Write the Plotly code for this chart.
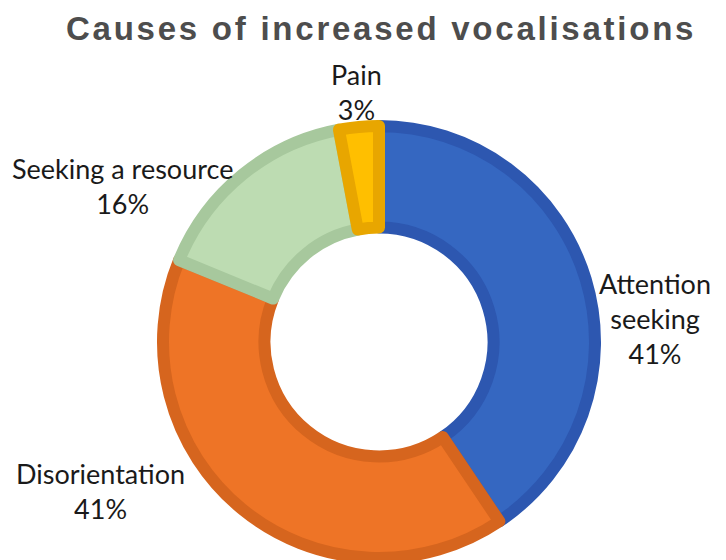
import plotly.graph_objects as go

labels = ["Attention<br>seeking", "Disorientation", "Seeking a resource", "Pain"]
values = [41, 41, 16, 3]
fill_colors = ["#3567c1", "#ee7426", "#bddcb2", "#ffbf00"]
border_colors = ["#2d57b0", "#d6651e", "#a7c89d", "#e8a600"]
label_pos = [(655, 318), (100, 491), (122, 186), (356, 92)]  # pixel centres (x, y from top)
title = "Causes of increased vocalisations"

W, H = 726, 560
cx, cy, r = 379, 342, 216

fig = go.Figure(go.Pie(
    labels=labels,
    values=values,
    hole=0.53,
    sort=False,
    direction="clockwise",
    rotation=0,
    textinfo="none",
    hoverinfo="label+percent",
    marker=dict(colors=fill_colors, line=dict(color=border_colors, width=12)),
    domain=dict(x=[(cx - r) / W, (cx + r) / W],
                y=[max(0, (H - cy - r) / H), (H - cy + r) / H]),
    showlegend=False,
))

total = sum(values)
for lab, v, (px, py) in zip(labels, values, label_pos):
    fig.add_annotation(
        x=px / W, y=1 - py / H, xref="paper", yref="paper",
        text=f"{lab}<br>{round(100 * v / total)}%",
        showarrow=False, xanchor="center", yanchor="middle",
        font=dict(family="Lato", size=27, color="#1a1a1a"),
    )

spaced_title = "\u200a".join(title)
fig.add_annotation(
    x=379 / W, y=1 - 28 / H, xref="paper", yref="paper",
    text=f"<b>{spaced_title}</b>",
    showarrow=False, xanchor="center", yanchor="middle",
    font=dict(family="Liberation Sans", size=33, color="#4d4d4d"),
)

fig.update_layout(
    width=W, height=H,
    margin=dict(l=0, r=0, t=0, b=0),
    paper_bgcolor="white", plot_bgcolor="white",
)

fig.write_html("out.html")
